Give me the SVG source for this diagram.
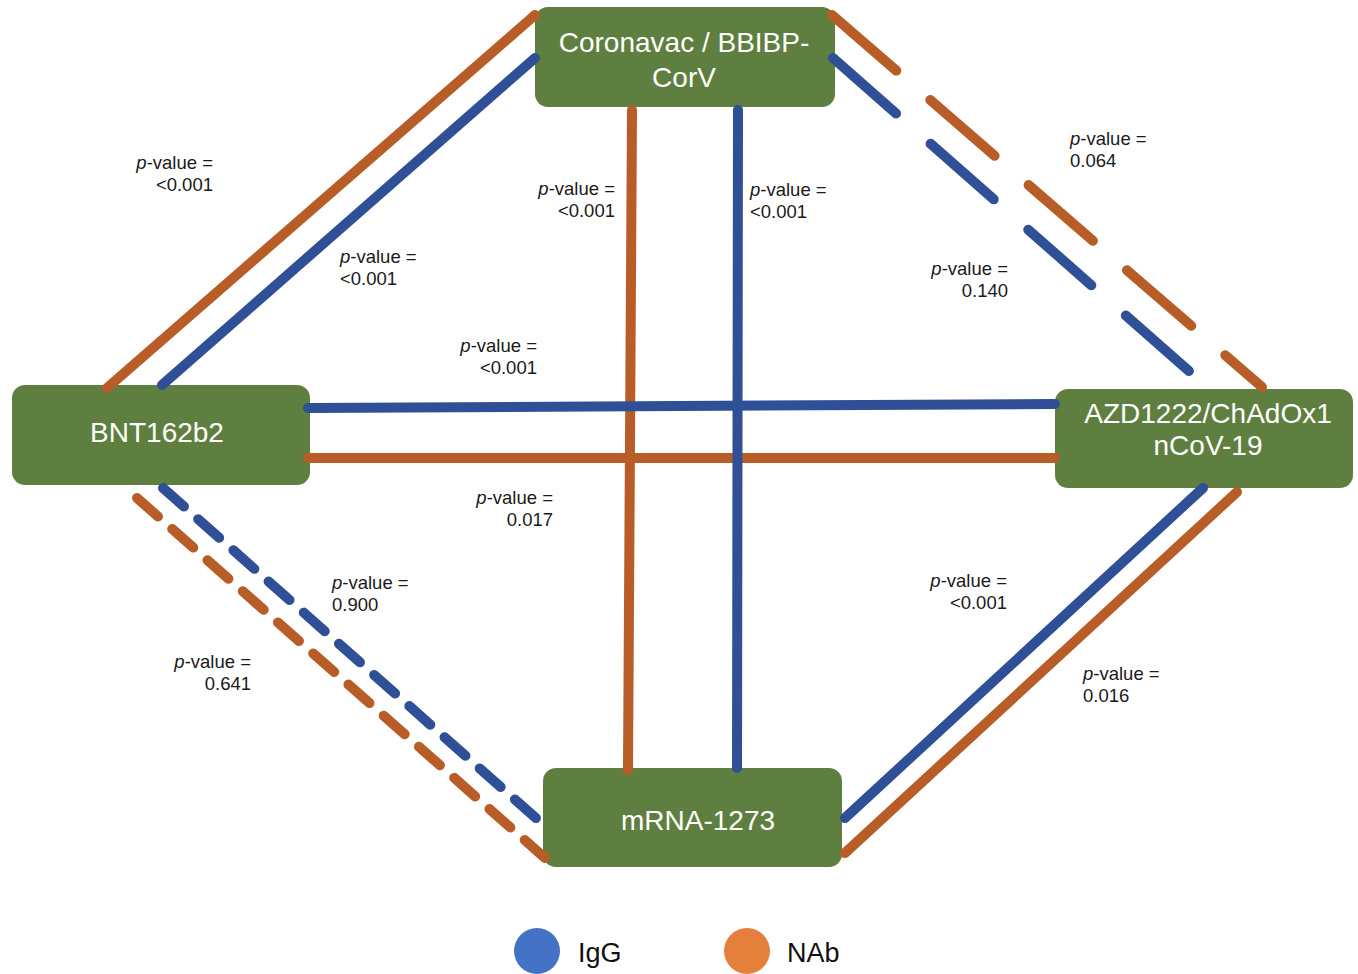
<svg xmlns="http://www.w3.org/2000/svg" width="1358" height="974" viewBox="0 0 1358 974">
<style>
.box{fill:#5E7F3F}
.nl{font-family:"Liberation Sans",Arial,sans-serif;font-size:28px;fill:#ffffff;text-anchor:middle}
.ln{fill:none;stroke-width:10;stroke-linecap:round}
.b{stroke:#2F4F96}
.o{stroke:#B85D27}
.pl{font-family:"Liberation Sans",Arial,sans-serif;font-size:18.5px;fill:#1a1a1a}
.r{text-anchor:end}
.i{font-style:italic}
.lg{font-family:"Liberation Sans",Arial,sans-serif;font-size:27px;fill:#111111}
</style>
<rect width="1358" height="974" fill="#ffffff"/>
<g id="node-coronavac">
<rect class="box" x="535" y="7" width="300" height="100" rx="13"/>
<text class="nl" x="684" y="52">Coronavac / BBIBP-</text>
<text class="nl" x="684" y="87">CorV</text>
</g>
<g id="node-bnt162b2">
<rect class="box" x="12" y="385" width="298" height="100" rx="13"/>
<text class="nl" x="157" y="442">BNT162b2</text>
</g>
<g id="node-azd1222">
<rect class="box" x="1055" y="389" width="298" height="99" rx="13"/>
<text class="nl" x="1208" y="423">AZD1222/ChAdOx1</text>
<text class="nl" x="1208" y="455">nCoV-19</text>
</g>
<g id="node-mrna1273">
<rect class="box" x="543" y="768" width="299" height="99" rx="13"/>
<text class="nl" x="698" y="830">mRNA-1273</text>
</g>
<g id="connectors">
<line class="ln o" x1="107" y1="388" x2="535" y2="15"/>
<line class="ln b" x1="162" y1="385" x2="535" y2="58"/>
<line class="ln o" x1="832" y1="15" x2="1262" y2="387" stroke-dasharray="85 45"/>
<line class="ln b" x1="833" y1="58" x2="1190" y2="372" stroke-dasharray="84 46"/>
<line class="ln o" x1="632" y1="110" x2="628" y2="770"/>
<line class="ln b" x1="308" y1="408" x2="1055" y2="404"/>
<line class="ln o" x1="308" y1="458" x2="1055" y2="458"/>
<line class="ln b" x1="738" y1="110" x2="737" y2="768"/>
<line class="ln b" x1="163" y1="488" x2="538" y2="820" stroke-dasharray="28 19"/>
<line class="ln o" x1="137" y1="498" x2="545" y2="858" stroke-dasharray="28 19"/>
<line class="ln b" x1="1203" y1="488" x2="845" y2="818"/>
<line class="ln o" x1="1237" y1="492" x2="845" y2="853"/>
</g>
<g id="edge-labels">
<text class="pl r"><tspan x="213" y="169"><tspan class="i">p</tspan>-value =</tspan><tspan x="213" y="191">&lt;0.001</tspan></text>
<text class="pl"><tspan x="340" y="263"><tspan class="i">p</tspan>-value =</tspan><tspan x="340" y="285">&lt;0.001</tspan></text>
<text class="pl r"><tspan x="537" y="352"><tspan class="i">p</tspan>-value =</tspan><tspan x="537" y="374">&lt;0.001</tspan></text>
<text class="pl r"><tspan x="553" y="504"><tspan class="i">p</tspan>-value =</tspan><tspan x="553" y="526">0.017</tspan></text>
<text class="pl r"><tspan x="615" y="195"><tspan class="i">p</tspan>-value =</tspan><tspan x="615" y="217">&lt;0.001</tspan></text>
<text class="pl"><tspan x="750" y="196"><tspan class="i">p</tspan>-value =</tspan><tspan x="750" y="218">&lt;0.001</tspan></text>
<text class="pl"><tspan x="1070" y="145"><tspan class="i">p</tspan>-value =</tspan><tspan x="1070" y="167">0.064</tspan></text>
<text class="pl r"><tspan x="1008" y="275"><tspan class="i">p</tspan>-value =</tspan><tspan x="1008" y="297">0.140</tspan></text>
<text class="pl"><tspan x="332" y="589"><tspan class="i">p</tspan>-value =</tspan><tspan x="332" y="611">0.900</tspan></text>
<text class="pl r"><tspan x="251" y="668"><tspan class="i">p</tspan>-value =</tspan><tspan x="251" y="690">0.641</tspan></text>
<text class="pl r"><tspan x="1007" y="587"><tspan class="i">p</tspan>-value =</tspan><tspan x="1007" y="609">&lt;0.001</tspan></text>
<text class="pl"><tspan x="1083" y="680"><tspan class="i">p</tspan>-value =</tspan><tspan x="1083" y="702">0.016</tspan></text>
</g>
<g id="legend">
<circle cx="537" cy="951" r="23" fill="#4472C4"/>
<text class="lg" x="578" y="962">IgG</text>
<circle cx="747" cy="951" r="23" fill="#E5803C"/>
<text class="lg" x="787" y="962">NAb</text>
</g>
</svg>
